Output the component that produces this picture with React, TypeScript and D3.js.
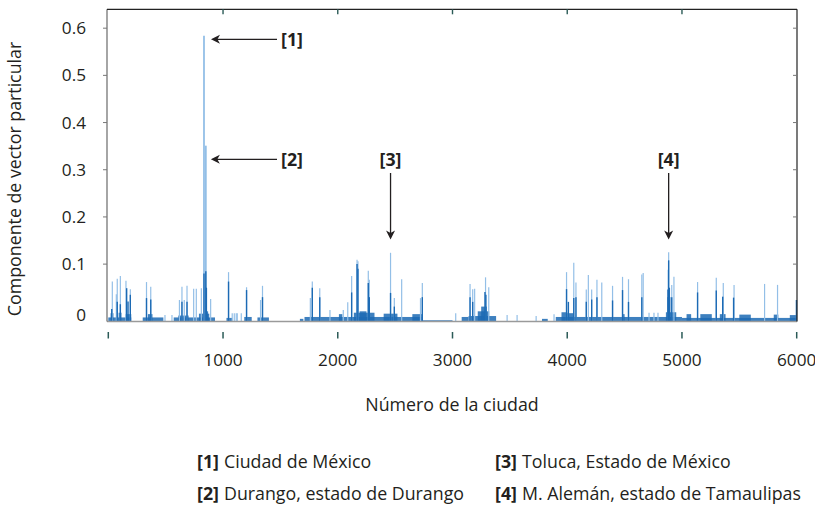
import React from "react";
import * as d3 from "d3";

// ---- data ----
// light (tall, thin) spikes: [city index, component value]
const peakIdx = [35, 70, 78, 105, 154, 192, 333, 370, 620, 642, 662, 686, 744, 767, 811, 834, 850, 892, 1048, 1205, 1327, 1344, 1761, 1778, 1843, 2087, 2121, 2168, 2176, 2266, 2275, 2460, 2493, 2557, 2721, 2737, 3153, 3176, 3193, 3288, 3316, 3994, 4057, 4076, 4166, 4184, 4213, 4259, 4301, 4395, 4482, 4534, 4650, 4662, 4880, 4884, 4911, 4930, 5136, 5299, 5360, 5454, 5720, 5833, 5998];
const peakVal = [0.063, 0.036, 0.069, 0.075, 0.065, 0.047, 0.062, 0.052, 0.024, 0.052, 0.024, 0.054, 0.048, 0.048, 0.049, 0.584, 0.351, 0.026, 0.083, 0.051, 0.024, 0.054, 0.028, 0.063, 0.049, 0.019, 0.075, 0.109, 0.106, 0.086, 0.067, 0.124, 0.028, 0.068, 0.028, 0.060, 0.058, 0.047, 0.048, 0.072, 0.051, 0.083, 0.103, 0.061, 0.046, 0.077, 0.046, 0.067, 0.061, 0.054, 0.073, 0.068, 0.078, 0.081, 0.088, 0.125, 0.056, 0.073, 0.062, 0.071, 0.060, 0.056, 0.058, 0.056, 0.024];

// darker cores of spikes / dense spots: [city index, value]
const coreIdx = [30, 78, 105, 160, 172, 192, 333, 370, 642, 686, 834, 850, 855, 1048, 1205, 1344, 1778, 1843, 2121, 2168, 2176, 2266, 2275, 2460, 2493, 2737, 3153, 3176, 3283, 3291, 3994, 4010, 4057, 4076, 4166, 4213, 4259, 4395, 4482, 4534, 4650, 4878, 4884, 4890, 4911, 5136, 5299, 5355, 5450, 5998];
const coreVal = [0.005, 0.02, 0.015, 0.049, 0.021, 0.035, 0.028, 0.025, 0.02, 0.02, 0.08, 0.085, 0.05, 0.063, 0.045, 0.03, 0.05, 0.03, 0.04, 0.1, 0.09, 0.06, 0.03, 0.039, 0.01, 0.03, 0.03, 0.02, 0.041, 0.035, 0.047, 0.02, 0.028, 0.03, 0.02, 0.025, 0.03, 0.023, 0.045, 0.02, 0.03, 0.046, 0.108, 0.05, 0.03, 0.04, 0.044, 0.031, 0.029, 0.024];

// faint short lines just above the base
const faintIdx = [494, 555, 1080, 1098, 1115, 1124, 1159, 1932, 2048, 3028, 3476, 3563, 3729, 3885, 4713, 4756, 4791];
const faintVal = [-0.008, -0.008, -0.004, -0.004, -0.004, -0.004, -0.004, 0.003, 0.003, -0.004, -0.008, -0.008, -0.01, -0.006, -0.003, -0.003, -0.003];

// dense low-level clutter along the base: [from index, to index, level]
const bandFrom = [0, 20, 90, 150, 300, 345, 570, 610, 790, 840, 1030, 1185, 1300, 1670, 1710, 2010, 2140, 2190, 2400, 2650, 2740, 3080, 3140, 3220, 3250, 3780, 3900, 3950, 4000, 4300, 4480, 4860, 4870, 5000, 5040, 5160, 5330, 5500, 5800, 5940];
const bandTo = [200, 45, 115, 200, 480, 385, 930, 700, 880, 870, 1080, 1250, 1400, 1700, 2740, 2040, 2320, 2250, 2520, 2740, 3000, 3140, 3380, 3320, 3300, 3830, 4300, 4000, 4060, 5000, 4500, 4950, 4900, 6000, 5080, 5260, 5380, 5600, 5840, 6000];
const bandVal = [-0.013, -0.004, -0.003, -0.006, -0.013, -0.006, -0.013, -0.009, -0.005, 0.0, -0.014, -0.012, -0.013, -0.016, -0.012, -0.006, -0.003, 0.0, -0.005, -0.006, -0.019, -0.012, -0.01, 0.0, 0.01, -0.016, -0.012, -0.002, -0.004, -0.012, -0.006, -0.002, 0.03, -0.014, -0.006, -0.006, -0.006, -0.007, -0.007, -0.008];

const xTicks = [0, 1000, 2000, 3000, 4000, 5000, 6000];
const xTickLabels = ["", "1000", "2000", "3000", "4000", "5000", "6000"];
const yTicks = [0, 0.1, 0.2, 0.3, 0.4, 0.5, 0.6];
const yTickLabels = ["0", "0.1", "0.2", "0.3", "0.4", "0.5", "0.6"];

const annoKeys = ["[1]", "[2]", "[3]", "[4]"];
const annoCity = [834, 850, 2460, 4884];
const legendNames = ["Ciudad de México", "Durango, estado de Durango", "Toluca, Estado de México", "M. Alemán, estado de Tamaulipas"];

const FONT = "'Open Sans', 'Noto Sans', sans-serif";
const FS = 17.8;
const TXT = "#231f20";
const LIGHT = "#93bfe7";
const DARK = "#1c6ab4";
const TEAL = "#2b5b57";

export default function App() {
  const x = d3.scaleLinear().domain([0, 6000]).range([108.3, 796.7]);
  const y = d3.scaleLinear().domain([-0.0216, 0.64]).range([321.5, 9.3]);
  const base = y.range()[0];
  const left = 107, right = 797, top = 9.3;

  const arrowHead = (tx: number, ty: number, dir: "left" | "down") => {
    const p = dir === "left"
      ? `M${tx},${ty} L${tx + 9},${ty - 4.5} L${tx + 6.5},${ty} L${tx + 9},${ty + 4.5} Z`
      : `M${tx},${ty} L${tx - 4.5},${ty - 9} L${tx},${ty - 6.5} L${tx + 4.5},${ty - 9} Z`;
    return <path d={p} fill={TXT} />;
  };

  const lblX = 292;

  return (
    <svg width={815} height={505} style={{ position: "absolute", left: 0, top: 0, background: "#fff" }} fontFamily={FONT}>
      {/* base clutter */}
      {bandFrom.map((f, i) => (
        <rect key={"b" + i} x={x(f)} width={Math.max(0.8, x(bandTo[i]) - x(f))} y={y(bandVal[i])} height={base - y(bandVal[i])} fill={DARK} opacity={0.85} />
      ))}
      {faintIdx.map((c, i) => (
        <line key={"f" + i} x1={x(c)} x2={x(c)} y1={base} y2={y(faintVal[i])} stroke={LIGHT} strokeWidth={1.2} />
      ))}
      {peakIdx.map((c, i) => (
        <line key={"p" + i} x1={x(c)} x2={x(c)} y1={base} y2={y(peakVal[i])} stroke={LIGHT} strokeWidth={peakVal[i] > 0.3 ? 1.8 : 1.2} />
      ))}
      {coreIdx.map((c, i) => (
        <line key={"c" + i} x1={x(c)} x2={x(c)} y1={base} y2={y(coreVal[i])} stroke={DARK} strokeWidth={1.4} />
      ))}

      {/* frame */}
      <line x1={left} x2={right} y1={base} y2={base} stroke="#9a9a9a" strokeWidth={1.6} />
      <line x1={left} x2={left} y1={top} y2={base} stroke="#6a6a6a" strokeWidth={1.2} />
      <line x1={left} x2={right} y1={top} y2={top} stroke="#222" strokeWidth={1.2} />
      <line x1={right} x2={right} y1={top} y2={base} stroke="#222" strokeWidth={1.2} />

      {/* y ticks */}
      {yTicks.map((t, i) => (
        <g key={"yt" + i}>
          {t > 0 && <line x1={left - 4} x2={left} y1={y(t)} y2={y(t)} stroke="#777" strokeWidth={1} />}
          {t > 0 && <line x1={right - 4} x2={right} y1={y(t)} y2={y(t)} stroke="#777" strokeWidth={1} />}
          <text x={86} y={y(t) + 6 + (t === 0 ? 3.5 : 0)} textAnchor="end" fontSize={FS - 0.6} fill={TXT}>{yTickLabels[i]}</text>
        </g>
      ))}

      {/* x ticks */}
      {xTicks.map((t, i) => (
        <g key={"xt" + i}>
          {t > 0 && t < 6000 && <line x1={x(t)} x2={x(t)} y1={top} y2={top + 5} stroke={TEAL} strokeWidth={1.4} />}
          <line x1={x(t)} x2={x(t)} y1={332} y2={338.5} stroke={TEAL} strokeWidth={1.5} />
          <text x={x(t)} y={366} textAnchor="middle" fontSize={FS - 0.6} fill={TXT}>{xTickLabels[i]}</text>
        </g>
      ))}

      {/* axis titles */}
      <text x={452} y={411} textAnchor="middle" fontSize={FS} fill={TXT}>Número de la ciudad</text>
      <text transform={`translate(21,179) rotate(-90)`} textAnchor="middle" fontSize={FS} fill={TXT}>Componente de vector particular</text>

      {/* annotations */}
      <line x1={x(annoCity[0]) + 12} x2={277} y1={39.3} y2={39.3} stroke={TXT} strokeWidth={1.3} />
      {arrowHead(x(annoCity[0]) + 7, 39.3, "left")}
      <text x={lblX} y={46} textAnchor="middle" fontSize={FS} fontWeight="bold" fill={TXT}>{annoKeys[0]}</text>

      <line x1={x(annoCity[1]) + 10} x2={277} y1={159.3} y2={159.3} stroke={TXT} strokeWidth={1.3} />
      {arrowHead(x(annoCity[1]) + 5, 159.3, "left")}
      <text x={lblX} y={166} textAnchor="middle" fontSize={FS} fontWeight="bold" fill={TXT}>{annoKeys[1]}</text>

      {[2, 3].map((k) => (
        <g key={"a" + k}>
          <line x1={x(annoCity[k])} x2={x(annoCity[k])} y1={173} y2={234} stroke={TXT} strokeWidth={1.3} />
          {arrowHead(x(annoCity[k]), 239.5, "down")}
          <text x={x(annoCity[k])} y={166} textAnchor="middle" fontSize={FS} fontWeight="bold" fill={TXT}>{annoKeys[k]}</text>
        </g>
      ))}

      {/* legend */}
      {legendNames.map((n, i) => {
        const col = i < 2 ? 0 : 1;
        const row = i % 2;
        const kx = col === 0 ? 197 : 495;
        const ty = row === 0 ? 468 : 500;
        return (
          <g key={"l" + i}>
            <text x={kx} y={ty} fontSize={FS} fontWeight="bold" fill={TXT}>{annoKeys[i]}</text>
            <text x={kx + 27} y={ty} fontSize={FS} fill={TXT}>{n}</text>
          </g>
        );
      })}
    </svg>
  );
}
